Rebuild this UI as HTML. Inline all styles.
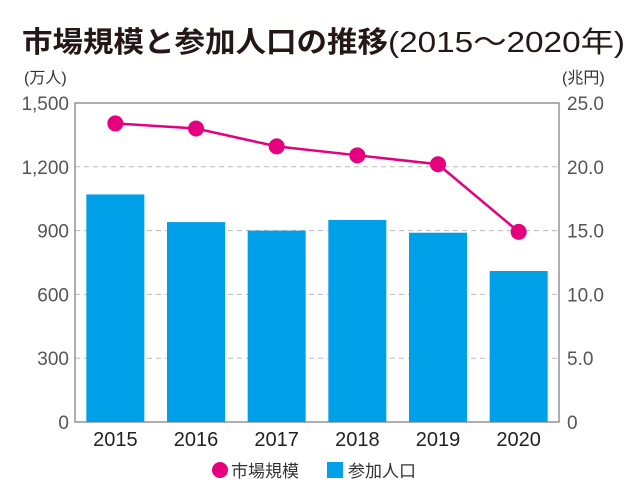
<!DOCTYPE html>
<html><head><meta charset="utf-8"><style>
body{margin:0;background:#fff;}
svg{display:block;font-family:"Liberation Sans","Noto Sans CJK JP",sans-serif;}
</style></head><body>
<svg id="chart" width="640" height="504" viewBox="0 0 640 504">
<text x="22" y="52" font-size="29" font-weight="bold" fill="#231815"><tspan textLength="366" lengthAdjust="spacingAndGlyphs">市場規模と参加人口の推移</tspan><tspan font-weight="normal" textLength="237" lengthAdjust="spacingAndGlyphs">(2015～2020年)</tspan></text>
<text x="24" y="83" font-size="16" fill="#333">(万人)</text>
<text x="562" y="83" font-size="16" fill="#333">(兆円)</text>
<g id="grid"></g><g id="bars"></g>
<rect x="75" y="103" width="484" height="319" fill="none" stroke="#777" stroke-width="1.2"/>
<g id="line"></g><g id="ticks"></g>
<g>
<circle cx="220" cy="470" r="8" fill="#e4007f"/>
<text x="231" y="477" font-size="17" fill="#333">市場規模</text>
<rect x="327" y="462" width="16" height="16" fill="#00a0e9"/>
<text x="348" y="477" font-size="17" fill="#333">参加人口</text>
</g>
</svg>
<script>
const categories=["2015","2016","2017","2018","2019","2020"];
const population=[1070,940,900,950,890,710];
const marketSize=[23.4,23.0,21.6,20.9,20.2,14.9];
const leftTicks=["0","300","600","900","1,200","1,500"];
const rightTicks=["0","5.0","10.0","15.0","20.0","25.0"];
const NS="http://www.w3.org/2000/svg";
const L=75,R=559,T=103,B=422;
const yL=v=>B-(v/1500)*(B-T);
const yR=v=>B-(v/25)*(B-T);
const bw=(R-L)/categories.length;
const xC=i=>L+bw*(i+0.5);
function mk(tag,attrs,parent){const e=document.createElementNS(NS,tag);for(const k in attrs)e.setAttribute(k,attrs[k]);document.getElementById(parent).appendChild(e);return e;}
leftTicks.forEach((t,i)=>{
 const v=i*300,y=yL(v);
 if(i>0&&i<5){const g=mk('line',{x1:L,x2:R,y1:y,y2:y,stroke:'#bbb','stroke-dasharray':'5,4'},'grid');
 
 }
 const a=mk('text',{x:L-6,y:y+7,'font-size':19,'text-anchor':'end',fill:'#555'},'ticks');a.textContent=t;
 
 
 const b=mk('text',{x:R+8,y:y+7,'font-size':19,fill:'#555'},'ticks');b.textContent=rightTicks[i];
 
 
});
categories.forEach((c,i)=>{
 const r=mk('rect',{x:xC(i)-29,y:yL(population[i]),width:58,height:B-yL(population[i]),fill:'#00a0e9'},'bars');
 
 
 const t=mk('text',{x:xC(i),y:446,'font-size':20,'text-anchor':'middle',fill:'#222'},'ticks');t.textContent=c;
 
 
});
const pl=mk('polyline',{points:marketSize.map((v,i)=>xC(i)+','+yR(v)).join(' '),fill:'none',stroke:'#e4007f','stroke-width':2.5},'line');


marketSize.forEach((v,i)=>{
 const c=mk('circle',{cx:xC(i),cy:yR(v),r:8,fill:'#e4007f'},'line');
 
 
});
</script>
</body></html>
